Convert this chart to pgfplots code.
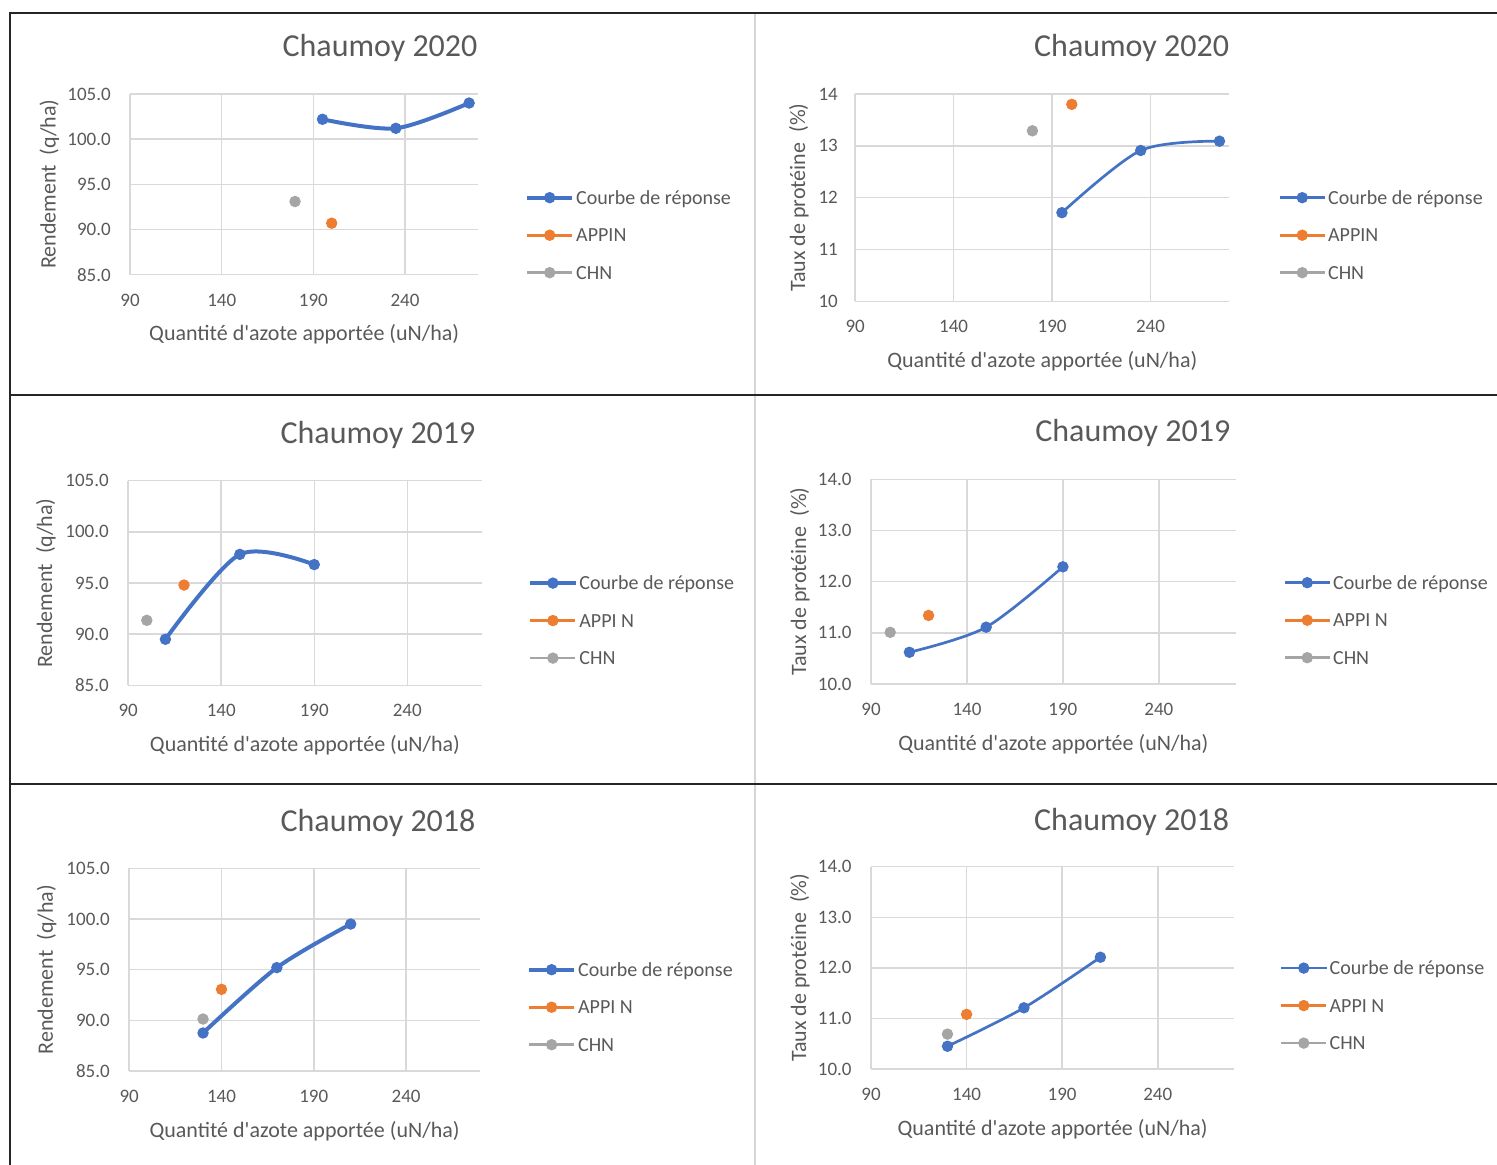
\documentclass[border=0pt]{standalone}
\usepackage{fontspec}
\setmainfont{Carlito}
\usepackage{pgfplots}
\pgfplotsset{compat=1.18}
\definecolor{cblue}{HTML}{4472C4}
\definecolor{corange}{HTML}{ED7D31}
\definecolor{cgray}{HTML}{A5A5A5}
\definecolor{ctext}{HTML}{595959}
\definecolor{cgrid}{HTML}{D9D9D9}
\definecolor{cborder}{HTML}{262626}
\definecolor{cborderlight}{HTML}{D6D6D6}

\pgfplotsset{
  excel/.style={
    scale only axis,
    anchor=north west,
    xmin=90, xmax=280,
    xtick={90,140,190,240},
    grid=major,
    major grid style={draw=cgrid, line width=0.75pt},
    axis line style={draw=none},
    tick style={draw=none},
    clip=false,
    /pgf/number format/assume math mode=true,
    tick label style={font=\fontsize{9.5}{11}\selectfont, text=ctext},
    xticklabel style={anchor=base, yshift=-15.75pt},
    yticklabel style={anchor=east, inner sep=0pt, xshift=-9.5pt},
    every axis x label/.style={at={(axis description cs:0.5,0)}, yshift=-33pt, anchor=base,
      font=\fontsize{11}{13}\selectfont, text=ctext},
    xlabel={Quantité d\textquotesingle azote apportée (uN/ha)},
    legend cell align=left,
    legend style={draw=none, fill=none, inner sep=0pt, anchor=north west,
      row sep=9.15pt, column sep=1pt,
      nodes={inner sep=0pt, text height=8pt, text depth=1.6pt,
        font=\fontsize{10}{12}\selectfont, text=ctext}},
    legend image code/.code={\draw[mark repeat=2,mark phase=2] plot coordinates {(0pt,0pt) (11.25pt,0pt) (22.5pt,0pt)};},
  },
  yld/.style={
    ymin=85, ymax=105, ytick={85,90,95,100,105},
    yticklabel style={/pgf/number format/.cd, fixed, fixed zerofill, precision=1},
    ylabel={Rendement\ \ (q/ha)},
  },
  prot/.style={
    ymin=10, ymax=14, ytick={10,11,12,13,14},
    ylabel={Taux de protéine\ \ (\%)},
  },
  ylab/.style={
    every axis y label/.style={at={(axis description cs:0,0.5)}, xshift=-#1, rotate=90, anchor=base,
      font=\fontsize{11}{13}\selectfont, text=ctext},
  },
  courbe/.style={draw=cblue, line width=#1, smooth, mark=*, mark size=2.6pt,
    mark options={solid, fill=cblue, draw=cblue, line width=0.5pt}},
  appin/.style={draw=corange, line width=1.35pt, mark=*, mark size=2.6pt,
    mark options={solid, fill=corange, draw=corange, line width=0.5pt}},
  chn/.style={draw=cgray, line width=1.35pt, mark=*, mark size=2.6pt,
    mark options={solid, fill=cgray, draw=cgray, line width=0.5pt}},
}

\begin{document}
\begin{tikzpicture}
\path[use as bounding box] (0pt,0pt) rectangle (748.5pt,-582.5pt);

% table borders
\draw[line width=1pt, draw=cborderlight] (377.5pt,-6.65pt) -- (377.5pt,-582.5pt);
\draw[line width=1pt, draw=cborder] (4.5pt,-6.65pt) -- (748.5pt,-6.65pt);
\draw[line width=1pt, draw=cborder] (5pt,-6.65pt) -- (5pt,-582.5pt);
\draw[line width=1pt, draw=cborder] (5pt,-197.7pt) -- (748.5pt,-197.7pt);
\draw[line width=1pt, draw=cborder] (5pt,-392.2pt) -- (748.5pt,-392.2pt);

% titles
\node[anchor=base, font=\fontsize{16}{19}\selectfont, text=ctext] at (190pt,-28.5pt) {Chaumoy 2020};
\node[anchor=base, font=\fontsize{16}{19}\selectfont, text=ctext] at (565.8pt,-28.5pt) {Chaumoy 2020};
\node[anchor=base, font=\fontsize{16}{19}\selectfont, text=ctext] at (189pt,-222pt) {Chaumoy 2019};
\node[anchor=base, font=\fontsize{16}{19}\selectfont, text=ctext] at (566.4pt,-221pt) {Chaumoy 2019};
\node[anchor=base, font=\fontsize{16}{19}\selectfont, text=ctext] at (189pt,-415.5pt) {Chaumoy 2018};
\node[anchor=base, font=\fontsize{16}{19}\selectfont, text=ctext] at (565.8pt,-415pt) {Chaumoy 2018};

% ---------- Chaumoy 2020 rendement
\begin{axis}[excel, yld, ylab=37.25pt,
  at={(65.05pt,-47pt)}, width=174.1pt, height=90.35pt,
  legend style={at={(axis description cs:0,0)}, xshift=197.35pt, yshift=43.5pt}]
\addplot[courbe=2pt] coordinates {(195,102.2) (235,101.2) (275,104.0)};
\addplot[appin] coordinates {(200,90.7)};
\addplot[chn] coordinates {(180,93.1)};
\legend{Courbe de réponse, APPIN, CHN}
\end{axis}

% ---------- Chaumoy 2020 protéine
\begin{axis}[excel, prot, ylab=25pt,
  yticklabel style={xshift=1pt},
  at={(427.6pt,-47pt)}, width=187.05pt, height=103.65pt,
  legend style={at={(axis description cs:0,0)}, xshift=211.4pt, yshift=56.8pt}]
\addplot[courbe=1.35pt] coordinates {(195,11.71) (235,12.91) (275,13.09)};
\addplot[appin] coordinates {(200,13.80)};
\addplot[chn] coordinates {(180,13.29)};
\legend{Courbe de réponse, APPIN, CHN}
\end{axis}

% ---------- Chaumoy 2019 rendement
\begin{axis}[excel, yld, ylab=38pt,
  at={(64.1pt,-240.35pt)}, width=176.75pt, height=102.3pt,
  legend style={at={(axis description cs:0,0)}, xshift=199.9pt, yshift=56.1pt}]
\addplot[courbe=2pt] coordinates {(110,89.5) (150,97.8) (190,96.8)};
\addplot[appin] coordinates {(120,94.8)};
\addplot[chn] coordinates {(100,91.35)};
\legend{Courbe de réponse, APPI N, CHN}
\end{axis}

% ---------- Chaumoy 2019 protéine
\begin{axis}[excel, prot, ylab=32.5pt,
  yticklabel style={/pgf/number format/.cd, fixed, fixed zerofill, precision=1},
  at={(435.5pt,-239.65pt)}, width=182.3pt, height=102.35pt,
  legend style={at={(axis description cs:0,0)}, xshift=206pt, yshift=55.65pt}]
\addplot[courbe=1.35pt] coordinates {(110,10.62) (150,11.11) (190,12.29)};
\addplot[appin] coordinates {(120,11.34)};
\addplot[chn] coordinates {(100,11.01)};
\legend{Courbe de réponse, APPI N, CHN}
\end{axis}

% ---------- Chaumoy 2018 rendement
\begin{axis}[excel, yld, ylab=38.2pt,
  at={(64.6pt,-434.15pt)}, width=175.35pt, height=101.35pt,
  legend style={at={(axis description cs:0,0)}, xshift=198.75pt, yshift=55.65pt}]
\addplot[courbe=2pt] coordinates {(130,88.75) (170,95.2) (210,99.5)};
\addplot[appin] coordinates {(140,93.06)};
\addplot[chn] coordinates {(130,90.13)};
\legend{Courbe de réponse, APPI N, CHN}
\end{axis}

% ---------- Chaumoy 2018 protéine
\begin{axis}[excel, prot, ylab=32.5pt,
  yticklabel style={/pgf/number format/.cd, fixed, fixed zerofill, precision=1},
  at={(435.5pt,-433.35pt)}, width=181.6pt, height=101.15pt,
  legend style={at={(axis description cs:0,0)}, xshift=204.25pt, yshift=55.45pt}]
\addplot[courbe=1.35pt] coordinates {(130,10.45) (170,11.21) (210,12.21)};
\addplot[appin] coordinates {(140,11.08)};
\addplot[chn] coordinates {(130,10.69)};
\legend{Courbe de réponse, APPI N, CHN}
\end{axis}
\end{tikzpicture}
\end{document}
